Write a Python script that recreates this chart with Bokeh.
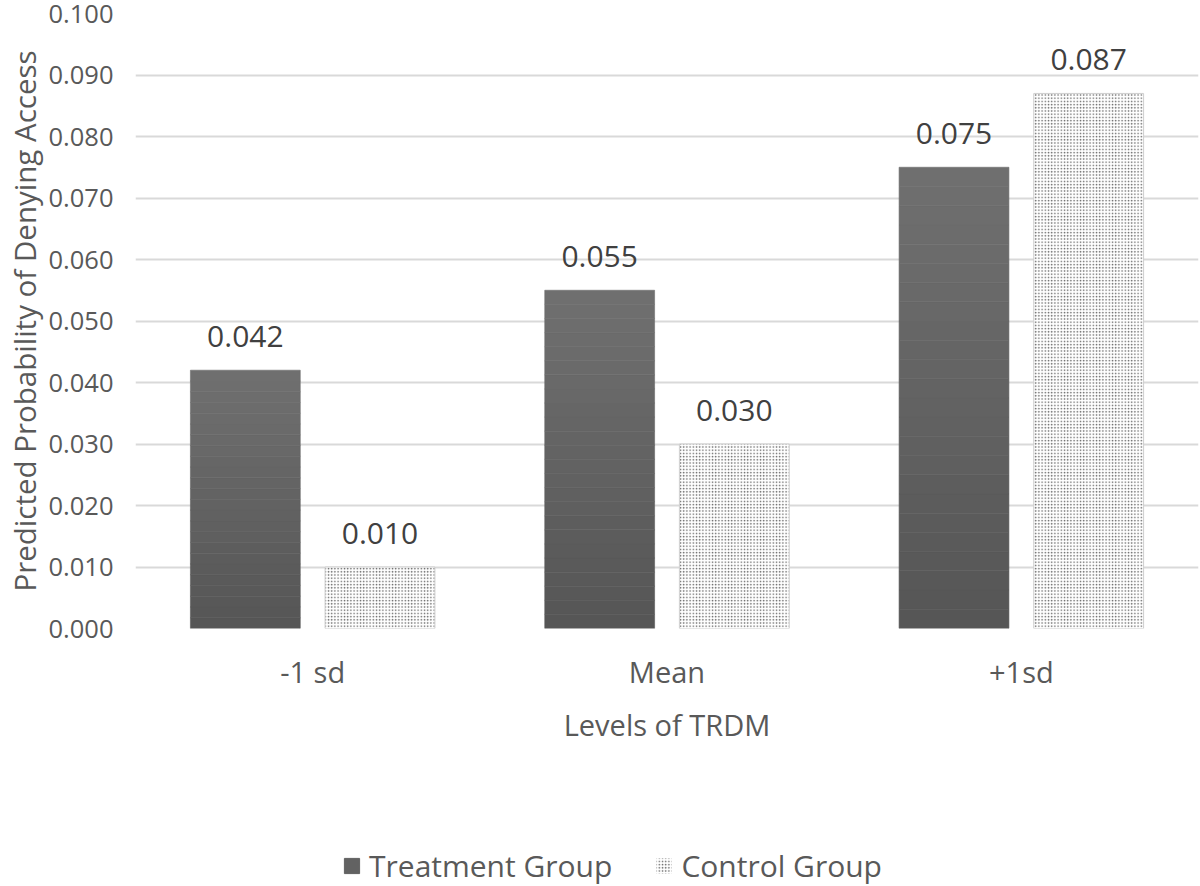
from bokeh.plotting import figure
from bokeh.models import (ColumnDataSource, FactorRange, Range1d, FixedTicker,
                          NumeralTickFormatter, LabelSet, Legend, LegendItem)
from bokeh.core.properties import value
from bokeh.transform import dodge
from bokeh.layouts import column
from bokeh.embed import file_html
from bokeh.resources import INLINE

# ---- data ----
categories = ["-1 sd", "Mean", "+1sd"]
treatment = [0.042, 0.055, 0.075]
control = [0.010, 0.030, 0.087]
series_names = ["Treatment Group", "Control Group"]
y_ticks = [0.0, 0.01, 0.02, 0.03, 0.04, 0.05, 0.06, 0.07, 0.08, 0.09, 0.10]
x_title = "Levels of TRDM"
y_title = "Predicted Probability of Denying Access"

FONT = "Open Sans"
TXT = "#595959"
BAR_W = 0.31
OFF = 0.19
HATCH = dict(hatch_pattern="dot", hatch_color="#666666", hatch_scale=3.2,
             hatch_weight=1.3)

p = figure(x_range=FactorRange(*categories), y_range=Range1d(0, 0.1),
           width=1200, height=840, output_backend="svg", toolbar_location=None,
           min_border_left=135, min_border_right=2, min_border_top=13,
           min_border_bottom=212)
p.outline_line_color = None
p.background_fill_color = "white"

# gradient for treatment bars (slices of each bar, lighter toward the top)
n = 24
dark = (0x55, 0x55, 0x55)
light = (0x70, 0x70, 0x70)
gx, gb, gt, gc = [], [], [], []
for c, v in zip(categories, treatment):
    for k in range(n):
        f = (k + 0.5) / n
        col = tuple(int(round(dark[i] + (light[i] - dark[i]) * f)) for i in range(3))
        gx.append(c)
        gb.append(v * k / n)
        gt.append(v * (k + 1) / n)
        gc.append("#%02x%02x%02x" % col)
gsrc = ColumnDataSource(dict(x=gx, bottom=gb, top=gt, color=gc))
p.vbar(x=dodge("x", -OFF, range=p.x_range), bottom="bottom", top="top",
       width=BAR_W, source=gsrc, fill_color="color", line_color="color",
       line_width=0.6)

csrc = ColumnDataSource(dict(x=categories, top=control))
p.vbar(x=dodge("x", OFF, range=p.x_range), top="top", bottom=0,
       width=BAR_W, source=csrc, fill_color="white", line_color="#cfcfcf",
       line_width=1, **HATCH)

# data labels
lt = ColumnDataSource(dict(x=categories, y=treatment, t=[f"{v:.3f}" for v in treatment]))
lc = ColumnDataSource(dict(x=categories, y=control, t=[f"{v:.3f}" for v in control]))
for src, off in ((lt, -OFF), (lc, OFF)):
    p.add_layout(LabelSet(x=dodge("x", off, range=p.x_range), y="y", text="t",
                          source=src, y_offset=23, text_align="center",
                          text_baseline="alphabetic", text_font=value(FONT),
                          text_font_size="30px", text_color="#404040"))

# grid
p.xgrid.visible = False
p.ygrid.ticker = FixedTicker(ticks=y_ticks)
p.ygrid.grid_line_color = "#d9d9d9"
p.ygrid.grid_line_width = 1.8

# y axis
ya = p.yaxis[0]
ya.ticker = FixedTicker(ticks=y_ticks)
ya.formatter = NumeralTickFormatter(format="0.000")
ya.axis_line_color = None
ya.major_tick_line_color = None
ya.minor_tick_line_color = None
ya.major_tick_in = 0
ya.major_tick_out = 0
ya.major_label_standoff = 22
ya.major_label_text_font = FONT
ya.major_label_text_font_size = "25.5px"
ya.major_label_text_color = TXT
ya.axis_label = y_title
ya.axis_label_text_font = FONT
ya.axis_label_text_font_size = "29.5px"
ya.axis_label_text_font_style = "normal"
ya.axis_label_text_color = TXT
ya.axis_label_standoff = 0

# x axis
xa = p.xaxis[0]
xa.axis_line_color = None
xa.major_tick_line_color = None
xa.minor_tick_line_color = None
xa.major_tick_in = 0
xa.major_tick_out = 0
xa.major_label_standoff = 23
xa.major_label_text_font = FONT
xa.major_label_text_font_size = "29px"
xa.major_label_text_color = TXT
xa.axis_label = x_title
xa.axis_label_text_font = FONT
xa.axis_label_text_font_size = "29px"
xa.axis_label_text_font_style = "normal"
xa.axis_label_text_color = TXT
xa.axis_label_standoff = 11

# ---- legend strip (separate figure below the chart; bars kept out of view) ----
lg = figure(width=1200, height=46, output_backend="svg", toolbar_location=None,
            x_axis_location=None, y_axis_location=None,
            x_range=FactorRange(*categories), y_range=Range1d(1, 2),
            min_border_left=0, min_border_right=0, min_border_top=0,
            min_border_bottom=0)
lg.outline_line_color = None
lg.grid.visible = False
rt = lg.vbar(x=categories, top=treatment, width=BAR_W,
             fill_color="#626262", line_color="#626262")
rc = lg.vbar(x=categories, top=control, width=BAR_W,
             fill_color="white", line_color=None, **HATCH)
legend = Legend(items=[LegendItem(label=series_names[0], renderers=[rt]),
                       LegendItem(label=series_names[1], renderers=[rc])],
                orientation="horizontal", location=(207, 0),
                glyph_width=19, glyph_height=19, label_standoff=8, spacing=42,
                padding=0, margin=0, border_line_color=None,
                background_fill_alpha=0, label_text_font=FONT,
                label_text_font_size="30px", label_text_color=TXT)
lg.add_layout(legend)

open("out.html", "w").write(file_html(column(p, lg, spacing=0), INLINE))
